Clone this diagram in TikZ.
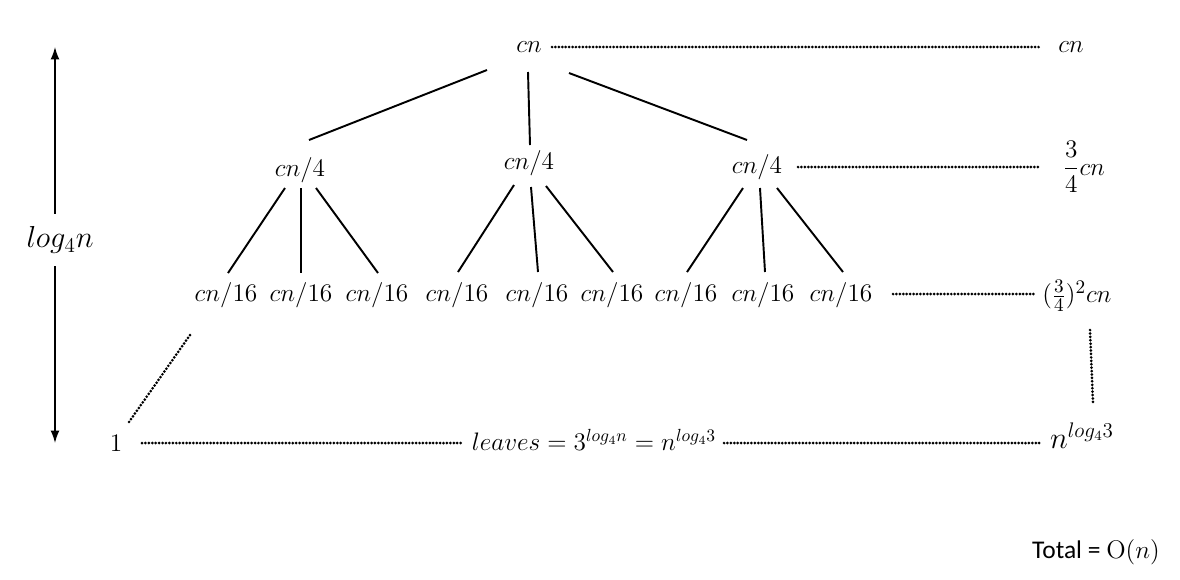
\documentclass[tikz,border=0pt]{standalone}
\usepackage{amsmath}
\usepackage{fontspec}
\newfontfamily\calibri{Carlito}
\usetikzlibrary{arrows.meta}
\begin{document}
\begin{tikzpicture}[x=0.02cm,y=-0.02cm,
  lbl/.style={inner sep=0pt,font=\fontsize{13.5}{16}\selectfont},
  big/.style={inner sep=0pt,font=\fontsize{15.5}{18}\selectfont},
  edge/.style={line width=1.1pt},
  dots/.style={line width=1.7pt,line cap=round,dash pattern=on 0pt off 1.95pt},
  dim/.style={line width=0.8pt,{Latex[length=7pt,width=5pt]}-{Latex[length=7pt,width=5pt]}}]
\useasboundingbox (0,0) rectangle (1180,579);

% height arrow
\coordinate (atop) at (55,47);
\coordinate (abot) at (55,443);
\draw[dim] (atop) -- (abot);
\node[fill=white,inner xsep=0pt,inner ysep=7pt,font=\fontsize{18}{21}\selectfont] (h) at (60,240) {$log_4n$};

% level 0
\node[lbl] (r) at (529,47) {$cn$};
% level 1
\node[lbl] (a) at (300,170) {$cn/4$};
\node[lbl] (b) at (529,163) {$cn/4$};
\node[lbl] (c) at (757,167) {$cn/4$};
% level 2
\foreach \n/\x in {a1/226,a2/301,a3/377,b1/457,b2/537,b3/612,c1/686,c2/763,c3/841}
  \node[lbl] (\n) at (\x,295) {$cn/16$};

% edge end points
\coordinate (r1) at (487,70);  \coordinate (ar) at (309,140);
\coordinate (r2) at (528,72);  \coordinate (br) at (530,145);
\coordinate (r3) at (569,73);  \coordinate (cr) at (747,140);
\draw[edge] (r1) -- (ar);
\draw[edge] (r2) -- (br);
\draw[edge] (r3) -- (cr);

\coordinate (aa1) at (285,188); \coordinate (ta1) at (228,273);
\coordinate (aa2) at (301,188); \coordinate (ta2) at (301,273);
\coordinate (aa3) at (316,188); \coordinate (ta3) at (378,273);
\coordinate (bb1) at (514,185); \coordinate (tb1) at (458,272);
\coordinate (bb2) at (531,187); \coordinate (tb2) at (538,272);
\coordinate (bb3) at (546,186); \coordinate (tb3) at (613,272);
\coordinate (cc1) at (743,188); \coordinate (tc1) at (687,272);
\coordinate (cc2) at (760,188); \coordinate (tc2) at (765,272);
\coordinate (cc3) at (777,188); \coordinate (tc3) at (843,272);
\foreach \s/\t in {aa1/ta1,aa2/ta2,aa3/ta3,bb1/tb1,bb2/tb2,bb3/tb3,cc1/tc1,cc2/tc2,cc3/tc3}
  \draw[edge] (\s) -- (\t);

% right column
\node[big] (s0) at (1071,47) {$cn$};
\node[big] (s1) at (1084,167) {$\dfrac{3}{4}cn$};
\node[big] (s2) at (1077,296) {$(\frac{3}{4})^2cn$};
\node[big,font=\fontsize{16.5}{19}\selectfont] (s3) at (1082,436) {$n^{log_43}$};

% bottom row
\node[lbl] (one) at (116,443) {$1$};
\node[big,font=\fontsize{13.6}{16}\selectfont] (lv) at (594,440) {$leaves=3^{log_4n}=n^{log_43}$};

% dotted connectors
\coordinate (d0a) at (552,47); \coordinate (d0b) at (1040,47);
\draw[dots] (d0a) -- (d0b);
\coordinate (d1a) at (798,167); \coordinate (d1b) at (1040,167);
\draw[dots] (d1a) -- (d1b);
\coordinate (d2a) at (893,294); \coordinate (d2b) at (1036,294);
\draw[dots] (d2a) -- (d2b);
\coordinate (d3a) at (142,443); \coordinate (d3b) at (463,443);
\draw[dots] (d3a) -- (d3b);
\coordinate (d4a) at (724,443); \coordinate (d4b) at (1040,443);
\draw[dots] (d4a) -- (d4b);
\coordinate (g1) at (190,335); \coordinate (g2) at (129,422);
\draw[dots] (g1) -- (g2);
\coordinate (v1) at (1090,330); \coordinate (v2) at (1093,403);
\draw[dots] (v1) -- (v2);

% total
\node[inner sep=0pt,font=\calibri\fontsize{14.5}{17}\selectfont] (tot) at (1096,552) {Total = $\mathrm{O}(n)$};
\end{tikzpicture}
\end{document}
